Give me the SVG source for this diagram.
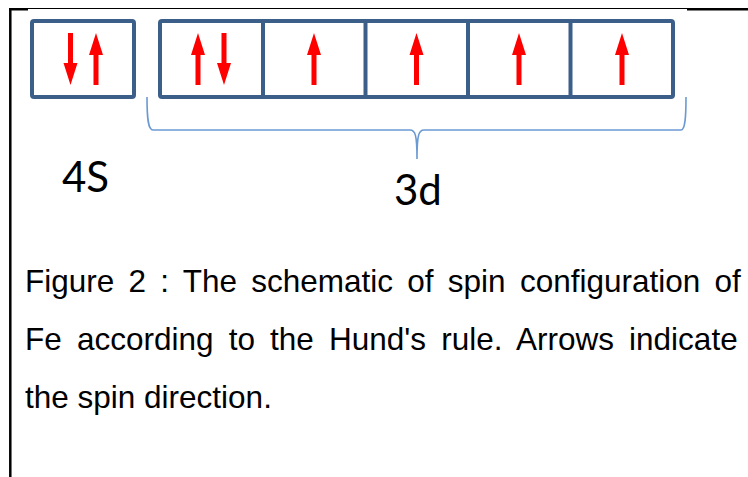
<svg xmlns="http://www.w3.org/2000/svg" width="748" height="477" viewBox="0 0 748 477">
<defs>
<style>
.box{fill:none;stroke:#3C5F8A;stroke-width:4}
.div{stroke:#3C5F8A;stroke-width:4}
.arr{fill:#FF0000}
.frame{stroke:#000;fill:none}
.brace{fill:none;stroke:#6B9AD3;stroke-width:1.6}
.lbl{font-family:Lato,"Liberation Sans",sans-serif;fill:#000}
.cap{font-family:"Liberation Sans",Arial,sans-serif;font-size:31.5px;fill:#000}
</style>
<path id="up" class="arr" d="M0,-26 L7,-4 L2.5,-4 L2.5,26 L-2.5,26 L-2.5,-4 L-7,-4 Z"/>
<path id="down" class="arr" d="M0,26 L7,4 L2.5,4 L2.5,-26 L-2.5,-26 L-2.5,4 L-7,4 Z"/>
</defs>
<rect width="748" height="477" fill="#fff"/>
<g id="frame">
<line class="frame" x1="10" y1="8.5" x2="748" y2="8.5" stroke-width="1.2"/>
<line class="frame" x1="9" y1="9.5" x2="28" y2="9.5" stroke-width="2"/>
<line class="frame" x1="687" y1="9.5" x2="748" y2="9.5" stroke-width="2"/>
<line class="frame" x1="10.3" y1="8" x2="10.3" y2="477" stroke-width="2.5"/>
</g>
<g id="orbital-4s">
<rect class="box" x="32" y="21" width="102" height="76" rx="2"/>
<use href="#down" x="70.5" y="59"/>
<use href="#up" x="96" y="59"/>
</g>
<g id="orbital-3d">
<rect class="box" x="160" y="21" width="513" height="76" rx="2"/>
<line class="div" x1="263" y1="21" x2="263" y2="97"/>
<line class="div" x1="365.5" y1="21" x2="365.5" y2="97"/>
<line class="div" x1="468" y1="21" x2="468" y2="97"/>
<line class="div" x1="570.5" y1="21" x2="570.5" y2="97"/>
<use href="#up" x="198" y="59"/>
<use href="#down" x="224" y="59"/>
<use href="#up" x="314" y="59"/>
<use href="#up" x="416.5" y="59"/>
<use href="#up" x="519" y="59"/>
<use href="#up" x="622" y="59"/>
</g>
<g id="connectors">
<path class="brace" d="M147,97 C147,118 148,130 153,130 L410,130 C415,130 417,134 417,159 C417,134 419,130 424,130 L681,130 C685,130 686,118 686,97"/>
</g>
<g id="label-4s"><text class="lbl" x="62" y="192" font-size="42">4S</text></g>
<g id="label-3d"><text class="lbl" x="394" y="205" font-size="42">3d</text></g>
<g id="caption">
<text class="cap" x="25" y="292" word-spacing="5.5">Figure 2 : The schematic of spin configuration of</text>
<text class="cap" x="25" y="350" word-spacing="6.4">Fe according to the Hund's rule. Arrows indicate</text>
<text class="cap" x="25" y="408">the spin direction.</text>
</g>
</svg>
